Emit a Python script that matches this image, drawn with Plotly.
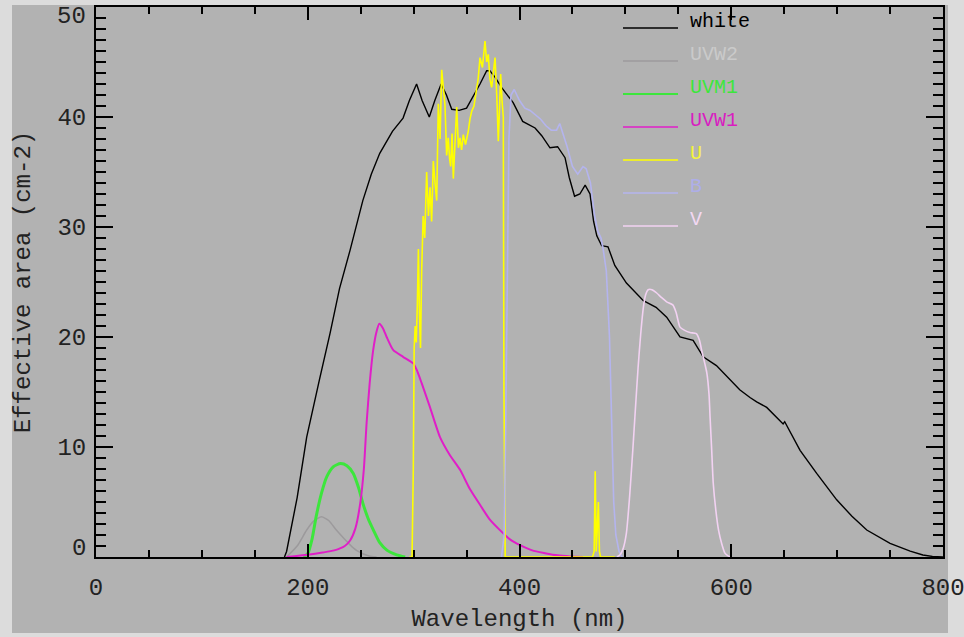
import plotly.graph_objects as go

# ---------------- data ----------------
series_names = ["white", "UVW2", "UVM1", "UVW1", "U", "B", "V"]

white_nm = [178, 180, 190, 199, 211, 221, 230, 240, 252, 260,
            268, 280, 290, 296, 302.8, 308, 314.8, 320, 326, 331,
            336, 343, 350, 356, 362.7, 369, 372, 377, 383, 394,
            403, 414.7, 421, 428.8, 436, 443, 447, 452, 457, 462,
            466.6, 470, 473, 477.6, 483.6, 490, 501, 517, 529, 539,
            551.6, 564, 573.5, 586, 597, 608, 617.7, 624, 633.5, 649,
            650.5, 658, 665, 680.7, 699.6, 714, 728, 750, 769, 781,
            790, 800]
white_val = [0, 0.5, 5.4, 10.9, 16.1, 20.3, 24.4, 27.9, 32.4, 34.8,
             36.7, 38.7, 39.9, 41.5, 43.0, 41.5, 40.0, 41.5, 43.0, 42.0,
             40.7, 40.6, 40.8, 41.8, 43.0, 44.2, 44.2, 43.6, 42.7, 41.3,
             39.6, 39.0, 38.3, 37.2, 37.3, 36.3, 34.5, 32.8, 33.0, 33.8,
             33.0, 30.5, 29.2, 28.3, 28.2, 26.5, 24.9, 23.3, 22.7, 21.8,
             20.0, 19.7, 18.2, 17.4, 16.3, 15.2, 14.5, 14.1, 13.6, 12.1,
             12.3, 10.9, 9.7, 7.6, 5.2, 3.7, 2.45, 1.24, 0.54, 0.18,
             0.05, 0.0]

uvw2_nm = [180, 190, 199, 206, 213, 220, 227, 234, 240, 246, 252, 258, 265]
uvw2_val = [0, 1.0, 2.45, 3.3, 3.66, 3.3, 2.45, 1.7, 1.1, 0.6, 0.3, 0.1, 0]

uvm1_nm = [196, 200, 204, 208, 213, 218, 224, 231, 237, 243, 248, 252, 257, 262, 268, 275, 284, 292]
uvm1_val = [0, 0.3, 1.6, 3.7, 5.8, 7.3, 8.2, 8.5, 8.3, 7.6, 6.3, 4.9, 3.5, 2.45, 1.3, 0.6, 0.2, 0]

uvw1_nm = [180, 200, 214, 225, 235, 240, 245, 249.6, 253, 255.6,
           258.5, 261.8, 265, 267.6, 271, 274.5, 280.8, 290, 299.6, 303,
           307.6, 315.5, 324.9, 334, 344, 353, 363, 372, 382, 391,
           400, 412, 424, 436, 448, 460]
uvw1_val = [0, 0.2, 0.4, 0.6, 1.0, 1.5, 2.6, 4.9, 8.0, 12.2,
            15.8, 18.8, 20.5, 21.2, 20.8, 20.0, 18.8, 18.2, 17.6, 17.0,
            15.8, 13.6, 10.9, 9.3, 7.9, 6.2, 4.7, 3.4, 2.4, 1.6,
            1.1, 0.6, 0.35, 0.15, 0.05, 0]

u_nm = [296, 298.5, 299.7, 300.5, 301.5, 302.5, 303.5, 304.5, 305.5, 306.5,
        307.6, 309, 310.5, 312.3, 314, 315.5, 317, 318.6, 320.2, 321.8,
        323.3, 325, 326.5, 328, 329.6, 331.2, 332.7, 334, 335, 336.3,
        337.5, 339, 340.7, 342.3, 343.8, 345.3, 346.9, 349, 351.6, 353.2,
        354.8, 357, 359.6, 361, 362.7, 365, 367.4, 369, 370.5, 372,
        373.7, 375.3, 376.9, 378.5, 380, 381.2, 382.2, 383.5, 384.7, 385.3,
        385.8, 386.5, 388, 420, 469, 470.5, 471.5, 472.5, 473.5, 474.5,
        475.5, 476.5, 478, 490]
u_val = [0, 0, 8, 19, 21, 19.5, 23, 28, 22, 19,
         26, 31, 29, 35, 31, 33.6, 30.5, 36, 34, 32.4,
         41.2, 38, 44.3, 42.5, 41.1, 36.5, 38.1, 36.2, 35.5, 38.5,
         34.4, 37.5, 40.9, 37.2, 38.1, 37, 38.4, 37.5, 38.7, 39.8,
         40.5, 41, 42.7, 43.5, 45.4, 44.5, 46.9, 45, 45.7, 43.5,
         42.7, 44, 45.4, 42, 37.8, 41, 43.9, 41.5, 40, 15,
         5, 0, 0, 0, 0, 0.5, 7.8, 0.5, 3, 5,
         0.5, 0, 0, 0]

b_nm = [383, 385.5, 387, 388.5, 390, 392, 395, 400, 405, 410,
        415, 420, 425, 430, 435, 438, 441, 445, 450, 455,
        460, 463, 467, 471, 474, 477, 479, 482, 485, 487,
        489, 491, 494, 497]
b_val = [0, 2, 12, 28, 38, 42, 42.5, 41.5, 40.8, 40.6,
         40.2, 39.8, 39.2, 38.8, 38.8, 39.4, 38.5, 37.3, 35.5, 34.8,
         35.5, 35.3, 34.0, 31.0, 29.6, 29.0, 28.0, 26, 20, 12,
         5, 2, 0.5, 0]

v_nm = [492, 495, 498, 501, 504, 507, 509.5, 512, 514.5, 517,
        519, 521.5, 525, 529.6, 534, 539, 545, 548, 551.6, 556,
        561, 567, 570, 572, 575, 577, 579, 580, 581.5, 583,
        585.5, 588, 591, 594, 597, 600]
v_val = [0, 0.2, 0.8, 2.2, 5.5, 9.7, 13.5, 17.2, 20.3, 22.7,
         23.8, 24.3, 24.3, 24.0, 23.6, 23.2, 22.9, 22.2, 20.9, 20.6,
         20.4, 20.3, 19.7, 18.8, 17.6, 16.7, 14.8, 12.7, 9.8, 6.7,
         4.2, 2.45, 1.2, 0.35, 0.1, 0]

x_ticks = [0, 200, 400, 600, 800]
y_ticks = [0, 10, 20, 30, 40, 50]
y_ticktext = ["0", "10", "20", "30", "40", "50"]

# ---------------- styling ----------------
line_colors = ["#000000", "#9c9a9c", "#3ce63c", "#e01ec8", "#ffff00", "#b4b4ee", "#f2d2f2"]
text_colors = ["#000000", "#cacaca", "#3ce63c", "#d81ec0", "#f4f43c", "#aeaee8", "#f2d8f2"]
line_widths = [1.4, 1.5, 3.0, 2.0, 1.6, 1.6, 1.6]
shapes_kind = ["linear", "spline", "spline", "spline", "linear", "linear", "spline"]

xs = [white_nm, uvw2_nm, uvm1_nm, uvw1_nm, u_nm, b_nm, v_nm]
ys = [white_val, uvw2_val, uvm1_val, uvw1_val, u_val, b_val, v_val]

BG = "#b2b2b2"
OUTER = "#dcdcdc"
FONT = "Liberation Mono"
LABEL_COLOR = "#222222"

fig = go.Figure()
for name, x, y, c, w, s in zip(series_names, xs, ys, line_colors, line_widths, shapes_kind):
    fig.add_trace(go.Scatter(x=x, y=y, mode="lines", name=name,
                             line=dict(color=c, width=w, shape=s, smoothing=0.6),
                             showlegend=False))

W, H = 964, 637
ml, mr, mt, mb = 96, 21, 7, 80
pw, ph = W - ml - mr, H - mt - mb

def py2paper(py):
    return (H - mb - py) / ph

def px2paper(px):
    return (px - ml) / pw

shapes = [dict(type="rect", xref="paper", yref="paper",
               x0=px2paper(12), x1=px2paper(948), y0=py2paper(633), y1=py2paper(5),
               fillcolor=BG, line=dict(width=0), layer="below")]
annotations = []
for i, (name, lc, tc) in enumerate(zip(series_names, line_colors, text_colors)):
    ly = 28 + 33 * i
    shapes.append(dict(type="line", xref="paper", yref="paper",
                       x0=px2paper(623), x1=px2paper(678),
                       y0=py2paper(ly), y1=py2paper(ly),
                       line=dict(color=lc, width=1.6 if i != 2 else 2.2)))
    annotations.append(dict(xref="paper", yref="paper", x=px2paper(688), y=py2paper(ly - 7),
                            xanchor="left", yanchor="middle", text=name, showarrow=False,
                            font=dict(family=FONT, size=20, color=tc)))

tickfont = dict(family=FONT, size=24, color=LABEL_COLOR)

# end labels of the y axis are drawn kept inside the frame (as in the reference)
end_shift = {0: 9, len(y_ticks) - 1: -9}
shown_text = []
for i, t in enumerate(y_ticktext):
    if i in end_shift:
        shown_text.append("")
        annotations.append(dict(xref="paper", yref="y", x=px2paper(88), y=y_ticks[i],
                                yshift=end_shift[i], xanchor="right", yanchor="middle",
                                text=t, showarrow=False, font=tickfont))
    else:
        shown_text.append(t)

fig.update_xaxes(range=[0, 800], tickvals=x_ticks, ticks="inside", ticklen=13, tickwidth=1.5,
                 tickcolor="black", showline=True, linecolor="black", linewidth=2,
                 mirror="allticks", showgrid=False, zeroline=False,
                 minor=dict(dtick=50, tick0=0, ticklen=7, ticks="inside", tickcolor="black",
                            tickwidth=1.5, showgrid=False),
                 tickfont=tickfont, ticklabelstandoff=7, ticklabeloverflow="allow",
                 title=dict(text="Wavelength (nm)", font=tickfont, standoff=8))
fig.update_yaxes(range=[0, 50], tickvals=y_ticks, ticktext=shown_text, ticks="inside",
                 ticklen=17, tickwidth=1.5,
                 tickcolor="black", showline=True, linecolor="black", linewidth=2,
                 mirror="allticks", showgrid=False, zeroline=False,
                 minor=dict(dtick=1, tick0=0, ticklen=10, ticks="inside", tickcolor="black",
                            tickwidth=1.5, showgrid=False),
                 tickfont=tickfont, ticklabelstandoff=3, ticklabeloverflow="allow",
                 title=dict(text="Effective area (cm-2)", font=tickfont, standoff=20))

fig.update_layout(width=W, height=H, margin=dict(l=ml, r=mr, t=mt, b=mb, autoexpand=False),
                  paper_bgcolor=OUTER, plot_bgcolor=BG, showlegend=False,
                  shapes=shapes, annotations=annotations)

fig.write_html("out.html")
